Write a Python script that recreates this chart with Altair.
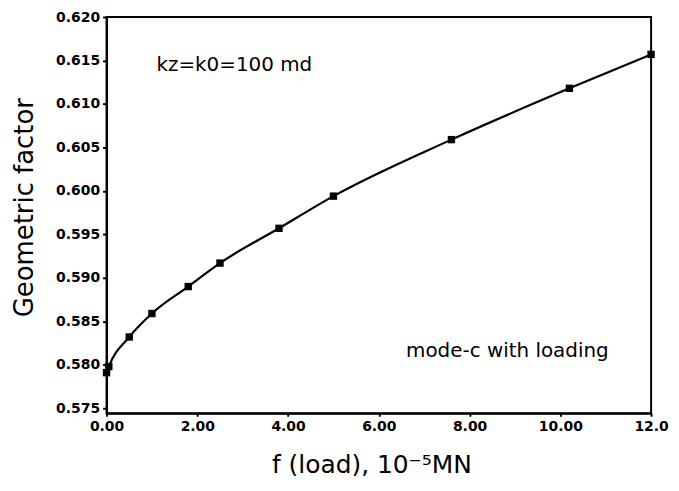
import altair as alt
import pandas as pd

# data
f_load = [0.0, 0.05, 0.5, 1.0, 1.8, 2.5, 3.8, 5.0, 7.6, 10.2, 12.0]
geo_factor = [0.5791, 0.5798, 0.5832, 0.5859, 0.5890, 0.5917, 0.5957, 0.5994, 0.6059, 0.6118, 0.6157]

x_ticks = [0, 2, 4, 6, 8, 10, 12]
x_tick_labels = ["0.00", "2.00", "4.00", "6.00", "8.00", "10.00", "12.0"]
y_ticks = [0.575, 0.580, 0.585, 0.590, 0.595, 0.600, 0.605, 0.610, 0.615, 0.620]

note_text = ["kz=k0=100 md", "mode-c with loading"]
note_x = [1.1, 6.6]
note_y = [0.6138, 0.5809]

df = pd.DataFrame({"f": f_load, "g": geo_factor})
notes = pd.DataFrame({"t": note_text, "x": note_x, "y": note_y})

label_map = "{" + ",".join(f"'{v}':'{l}'" for v, l in zip(x_ticks, x_tick_labels)) + "}"

FONT = "DejaVu Sans"

x_enc = alt.X(
    "f:Q",
    scale=alt.Scale(domain=[0, 12], nice=False, zero=False),
    axis=alt.Axis(
        values=x_ticks,
        labelExpr=f"{label_map}[datum.value + '']",
        title="f (load), 10\u207b\u2075MN",
        titleFont=FONT, titleFontSize=25, titleFontWeight="normal",
        titleX=266, titleY=60, titleBaseline="alphabetic", titleAlign="center",
        labelFont=FONT, labelFontSize=14, labelFontWeight="bold",
        labelPadding=3, tickSize=3, tickWidth=2, domainWidth=2,
        domainColor="black", tickColor="black", labelColor="black", titleColor="black",
        grid=False, labelFlush=False, labelOverlap=False,
    ),
)
y_enc = alt.Y(
    "g:Q",
    scale=alt.Scale(domain=[0.57443, 0.6200], nice=False, zero=False),
    axis=alt.Axis(
        values=y_ticks,
        format=".3f",
        title="Geometric factor",
        titleFont=FONT, titleFontSize=26, titleFontWeight="normal",
        titleX=-82, titleY=191, titleAngle=270, titleBaseline="middle", titleAlign="center",
        labelFont=FONT, labelFontSize=14, labelFontWeight="bold",
        labelPadding=3, tickSize=4, tickWidth=2, domainWidth=2,
        domainColor="black", tickColor="black", labelColor="black", titleColor="black",
        grid=False, labelFlush=False, labelOverlap=False,
    ),
)

line = alt.Chart(df).mark_line(color="black", strokeWidth=2.2, interpolate="monotone").encode(
    x=x_enc, y=y_enc
)
pts = alt.Chart(df).mark_square(color="black", size=55, opacity=1).encode(x="f:Q", y="g:Q")
txt = alt.Chart(notes).mark_text(
    font=FONT, fontSize=20, align="left", baseline="alphabetic", color="black"
).encode(x="x:Q", y="y:Q", text="t:N")

chart = (
    alt.layer(line, pts, txt)
    .properties(
        width=547,
        height=398,
        autosize=alt.AutoSizeParams(type="none"),
        padding={"left": 99, "top": 8, "right": 20, "bottom": 67},
        background="white",
    )
    .configure_view(stroke="black", strokeWidth=2)
)

chart.save("out.html", embed_options={"renderer": "svg", "actions": False})
